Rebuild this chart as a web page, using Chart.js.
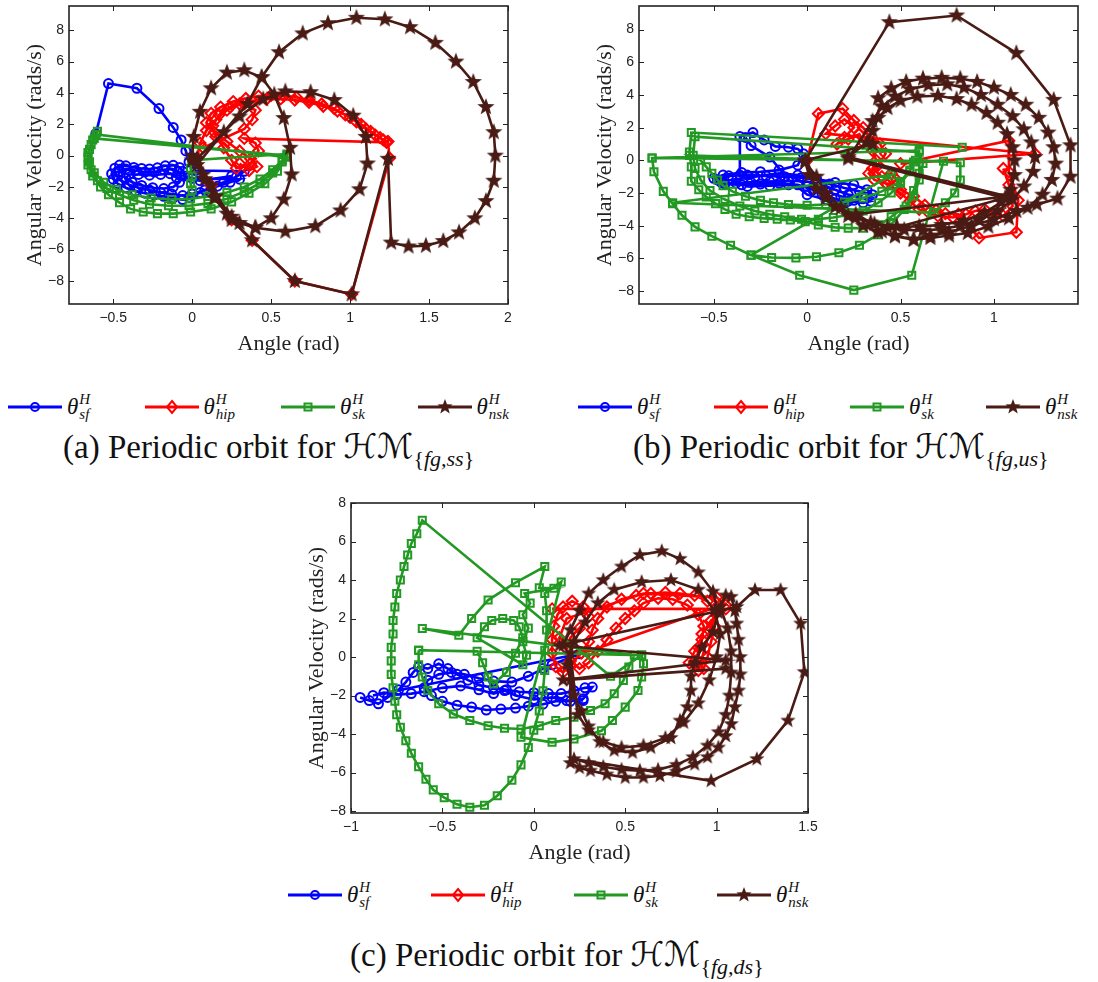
<!DOCTYPE html>
<html>
<head>
<meta charset="utf-8">
<script src="https://cdn.jsdelivr.net/npm/chart.js@4.4.0/dist/chart.umd.min.js"></script>
<style>
html, body { margin: 0; padding: 0; background: #fff; }
body { width: 1098px; height: 982px; position: relative; overflow: hidden; }
.plot { position: absolute; }
.leg { position: absolute; display: flex; align-items: center; height: 34px; }
.lab { font-family: 'Liberation Serif', 'DejaVu Serif', serif; font-style: italic; font-size: 23px; color: #111; display: inline-flex; align-items: center; margin-left: 5px; }
.ss { display: inline-flex; flex-direction: column; font-size: 15px; line-height: 15px; margin-left: 1px; }
.cap { position: absolute; font-family: 'Liberation Serif', 'DejaVu Serif', serif; font-size: 33px; line-height: 38px; color: #111; white-space: nowrap; }
.scr { font-family: 'DejaVu Sans', serif; font-style: italic; font-size: 34px; }
.cap sub { font-size: 22px; }
</style>
</head>
<body>
<div class="plot" id="wa"><canvas id="ca"></canvas></div>
<div class="plot" id="wb"><canvas id="cb"></canvas></div>
<div class="plot" id="wc"><canvas id="cc"></canvas></div>

<div class="cap" style="left:63px; top:427px">(a) Periodic orbit for <span class="scr">ℋℳ</span><sub>{<i>fg,ss</i>}</sub></div>
<div class="cap" style="left:633px; top:427px">(b) Periodic orbit for <span class="scr">ℋℳ</span><sub>{<i>fg,us</i>}</sub></div>
<div class="cap" style="left:350px; top:935px">(c) Periodic orbit for <span class="scr">ℋℳ</span><sub>{<i>fg,ds</i>}</sub></div>

<script>
// ---- data ----
const seriesNames = ['sf', 'hip', 'sk', 'nsk'];

const xTicksA = [-0.5, 0, 0.5, 1, 1.5, 2];
const xTicksB = [-0.5, 0, 0.5, 1];
const xTicksC = [-1, -0.5, 0, 0.5, 1, 1.5];
const yTicks = [-8, -6, -4, -2, 0, 2, 4, 6, 8];

const xRangeA = [-0.78, 2], yRangeA = [-9.47, 9.55];
const xRangeB = [-0.9, 1.45], yRangeB = [-8.79, 9.44];
const xRangeC = [-1, 1.5], yRangeC = [-8.1, 8];

// (a) HM{fg,ss}
const sfA = [[-0.61,1.4],[-0.53,4.6],[-0.35,4.3],[-0.21,3.0],[-0.12,1.8],[-0.07,1.0],[-0.04,0.3],[-0.02,-0.4],[0.02,-0.95],[0.33,-1.0],[0.28,-1.35],[0.2,-1.7],[0.12,-2.0],[0.05,-2.35],[-0.02,-2.65],[-0.06,-2.8],[-0.12,-2.7],[-0.18,-2.6],[-0.24,-2.5],[-0.3,-2.4],[-0.36,-2.25],[-0.42,-2.05],[-0.47,-1.8],[-0.5,-1.5],[-0.51,-1.15],[-0.49,-0.8],[-0.46,-0.6],[-0.42,-0.65],[-0.37,-0.75],[-0.32,-0.82],[-0.27,-0.85],[-0.22,-0.78],[-0.17,-0.65],[-0.12,-0.62],[-0.08,-0.75],[-0.06,-1.0],[-0.05,-1.3],[0.0,-1.45],[0.3,-1.5],[0.24,-1.7],[0.16,-1.95],[0.08,-2.2],[0.0,-2.45],[-0.06,-2.55],[-0.13,-2.45],[-0.2,-2.35],[-0.27,-2.2],[-0.34,-2.05],[-0.4,-1.85],[-0.45,-1.6],[-0.47,-1.3],[-0.46,-1.0],[-0.42,-0.85],[-0.36,-0.95],[-0.3,-1.05],[-0.24,-1.05],[-0.18,-0.9],[-0.13,-0.85],[-0.09,-1.0],[-0.07,-1.3],[-0.08,-1.7],[-0.12,-2.0],[-0.18,-2.1],[-0.25,-2.05],[-0.32,-1.9],[-0.38,-1.7],[-0.42,-1.45],[-0.4,-1.2],[-0.34,-1.2],[-0.27,-1.25],[-0.2,-1.2],[-0.14,-1.15],[-0.1,-1.4],[0.05,-1.6],[0.25,-1.3]];
const hipA = [[0.3,-0.5],[0.36,-0.95],[0.41,-0.7],[0.37,-0.2],[0.3,0.3],[0.22,0.9],[0.14,1.5],[0.09,2.1],[0.12,2.7],[0.18,3.1],[0.26,3.45],[0.34,3.65],[0.42,3.8],[0.5,3.85],[0.58,3.82],[0.66,3.72],[0.74,3.55],[0.82,3.3],[0.9,3.0],[0.97,2.6],[1.04,2.15],[1.1,1.7],[1.16,1.3],[1.21,1.0],[1.24,0.9],[1.25,-0.15],[1.01,-8.85],[0.65,-8.0],[0.38,-5.4],[0.25,-4.1],[0.12,-1.9],[0.03,-0.2],[0.05,0.8],[0.09,1.6],[0.15,2.3],[0.22,2.9],[0.3,3.3],[0.38,3.5],[0.47,3.6],[0.56,3.62],[0.65,3.55],[0.74,3.4],[0.83,3.15],[0.92,2.85],[1.0,2.45],[1.07,2.0],[1.13,1.55],[1.19,1.15],[1.23,0.85],[0.33,1.1],[0.4,0.8],[0.42,0.3],[0.37,-0.5],[0.28,-0.8],[0.25,-0.3],[0.2,0.5],[0.15,1.2],[0.13,1.9],[0.17,2.6],[0.24,3.1],[0.33,3.3],[0.4,2.9],[0.38,2.3],[0.33,1.7],[0.07,0.5]];
const skA = [[-0.6,1.55],[-0.63,1.0],[-0.66,0.2],[-0.66,-0.6],[-0.63,-1.3],[-0.58,-2.0],[-0.53,-2.5],[-0.46,-3.0],[-0.39,-3.4],[-0.31,-3.6],[-0.22,-3.7],[-0.12,-3.7],[-0.01,-3.6],[0.12,-3.4],[0.25,-2.95],[0.36,-2.4],[0.46,-1.8],[0.54,-1.0],[0.6,-0.1],[-0.61,1.35],[-0.64,0.7],[-0.66,-0.1],[-0.64,-0.9],[-0.6,-1.6],[-0.54,-2.1],[-0.46,-2.5],[-0.37,-2.85],[-0.27,-3.1],[-0.15,-3.2],[-0.02,-3.2],[0.1,-3.05],[0.22,-2.75],[0.33,-2.3],[0.43,-1.75],[0.51,-1.1],[0.57,-0.4],[0.6,0.0],[-0.62,1.1],[-0.65,0.4],[-0.65,-0.4],[-0.62,-1.1],[-0.56,-1.7],[-0.48,-2.15],[-0.38,-2.5],[-0.26,-2.7],[-0.13,-2.8],[-0.01,-2.75],[0.1,-2.6],[0.22,-2.35],[0.33,-2.0],[0.43,-1.5],[0.51,-0.9],[0.57,-0.3],[0.6,0.1],[0.0,-0.3],[-0.01,-0.8],[0.0,-1.3],[-0.01,-1.8],[0.0,-2.2]];
const nskA = [[0.0,0.0],[0.01,1.2],[0.05,2.8],[0.12,4.3],[0.22,5.3],[0.33,5.45],[0.44,5.0],[0.52,3.9],[0.58,2.4],[0.62,0.5],[0.63,-1.2],[0.58,-2.8],[0.5,-4.0],[0.4,-4.6],[0.3,-4.3],[0.22,-3.7],[0.14,-2.7],[0.08,-1.5],[0.03,-0.6],[0.2,1.5],[0.35,3.3],[0.44,5.0],[0.55,6.6],[0.70,7.8],[0.86,8.45],[1.04,8.8],[1.22,8.7],[1.38,8.2],[1.54,7.2],[1.67,6.0],[1.78,4.7],[1.86,3.1],[1.91,1.5],[1.92,0.0],[1.91,-1.6],[1.86,-2.9],[1.79,-4.0],[1.69,-4.9],[1.59,-5.45],[1.48,-5.75],[1.37,-5.8],[1.26,-5.55],[1.24,-0.2],[1.01,-8.85],[0.65,-8.0],[0.38,-5.4],[0.25,-4.1],[0.12,-1.9],[0.03,-0.2],[0.3,2.5],[0.45,3.6],[0.59,4.1],[0.75,4.05],[0.9,3.55],[1.02,2.55],[1.10,1.2],[1.11,-0.5],[1.06,-2.15],[0.94,-3.5],[0.78,-4.5],[0.59,-4.85],[0.4,-4.6],[0.25,-3.9],[0.15,-2.6],[0.07,-1.2],[0.0,-0.3]];

// (b) HM{fg,us}
const sfB = [[-0.36,-0.9],[-0.36,1.45],[-0.29,1.7],[-0.23,1.25],[-0.17,0.85],[-0.1,0.8],[-0.05,0.7],[-0.02,0.4],[-0.05,-0.3],[-0.15,-0.6],[-0.25,-0.7],[-0.35,-0.75],[-0.45,-0.9],[-0.5,-1.1],[-0.46,-1.35],[-0.38,-1.4],[-0.3,-1.35],[-0.2,-1.3],[-0.1,-1.25],[0.0,-1.3],[0.08,-1.5],[0.15,-1.8],[0.22,-2.1],[0.3,-2.3],[0.34,-2.5],[0.3,-2.6],[0.22,-2.5],[0.15,-2.35],[0.08,-2.1],[0.03,-1.8],[-0.05,-1.5],[-0.15,-1.4],[-0.25,-1.45],[-0.35,-1.5],[-0.44,-1.45],[-0.48,-1.2],[-0.42,-0.95],[-0.32,-0.9],[-0.22,-0.95],[-0.12,-1.0],[-0.03,-1.05],[0.05,-1.2],[0.12,-1.45],[0.2,-1.7],[0.28,-1.9],[0.35,-2.1],[0.32,-1.8],[0.25,-1.5],[0.15,-1.35],[0.05,-1.15],[-0.05,-0.9],[-0.15,-0.8],[-0.28,-1.0],[-0.4,-1.2],[-0.32,-1.6],[-0.2,-1.55],[-0.1,-1.5],[0.0,-1.6],[0.1,-1.9],[0.18,-2.2],[0.25,-2.45],[0.2,-2.65],[0.1,-2.4],[0.0,-2.1],[-0.1,-1.2],[-0.2,0.2],[-0.3,0.9],[-0.33,1.4]];
const hipB = [[0.0,0.0],[0.06,2.85],[0.19,3.16],[0.25,2.44],[0.3,2.0],[0.33,1.5],[0.39,1.0],[0.42,0.4],[0.38,-0.3],[0.33,-0.8],[0.36,-1.2],[0.42,-1.4],[0.48,-1.5],[0.5,-1.8],[0.57,-2.2],[0.63,-2.75],[0.69,-3.05],[0.74,-3.26],[0.81,-3.3],[0.92,-4.75],[1.12,-4.4],[1.13,-2.44],[1.08,-0.7],[1.08,1.2],[0.5,-0.2],[1.22,0.4],[0.1,1.63],[0.15,2.1],[0.2,2.5],[0.25,2.0],[0.2,1.4],[0.16,1.0],[0.22,1.3],[0.28,1.6],[0.3,1.1],[0.35,0.6],[0.37,0.0],[0.35,-0.5],[0.4,-1.0],[0.45,-0.8],[0.48,-1.2],[0.43,-1.5],[0.5,-2.0],[0.55,-2.5],[0.6,-3.0],[0.65,-3.2],[0.7,-3.4],[0.78,-3.5],[0.85,-3.3],[0.9,-3.1],[0.95,-3.0],[1.0,-3.2],[1.05,-3.4],[1.1,-2.8],[1.08,-1.5],[1.05,-0.5]];
const skB = [[0.83,0.8],[-0.62,1.7],[-0.63,0.5],[-0.62,-0.4],[-0.62,-1.28],[-0.58,-1.8],[-0.54,-2.24],[-0.49,-2.65],[-0.44,-3.0],[-0.38,-3.3],[-0.31,-3.45],[-0.23,-3.55],[-0.16,-3.6],[-0.09,-3.65],[-0.01,-3.75],[0.06,-3.95],[0.15,-4.1],[0.22,-4.15],[0.3,-4.15],[0.39,-3.95],[0.45,-3.45],[0.53,-2.8],[0.57,-1.85],[0.6,-0.8],[0.6,0.6],[-0.83,0.14],[-0.82,-0.7],[-0.77,-1.9],[-0.72,-2.65],[-0.67,-3.36],[-0.6,-4.07],[-0.51,-4.64],[-0.41,-5.2],[-0.3,-5.8],[-0.19,-5.95],[-0.06,-5.97],[0.05,-5.9],[0.17,-5.66],[0.28,-5.2],[0.38,-4.55],[0.46,-3.8],[0.52,-3.0],[0.57,-2.2],[0.6,-1.2],[0.62,-0.2],[0.6,0.5],[-0.6,1.45],[-0.61,0.3],[-0.6,-0.5],[-0.57,-1.2],[-0.52,-1.85],[-0.44,-2.4],[-0.36,-2.8],[-0.28,-3.1],[-0.2,-3.3],[-0.12,-3.45],[-0.03,-3.6],[0.06,-3.6],[0.14,-3.5],[0.22,-3.35],[0.3,-3.1],[0.38,-2.6],[0.45,-2.0],[0.5,-1.4],[0.55,-0.7],[0.57,-0.1],[-0.63,0.3],[-0.57,0.0],[-0.54,-0.4],[-0.51,-0.8],[-0.48,-1.2],[-0.45,-1.55],[-0.4,-1.9],[-0.33,-2.2],[-0.25,-2.45],[-0.18,-2.6],[-0.1,-2.7],[0.0,-2.75],[0.1,-2.7],[0.2,-2.55],[0.3,-2.3],[0.4,-1.9],[0.5,-1.3],[0.55,-0.6],[0.58,0.0],[0.82,-0.15],[0.82,-1.2],[0.79,-2.0],[0.74,-2.6],[0.68,-3.2],[-0.72,-2.6],[0.45,-0.9],[-0.3,-5.8],[-0.04,-7.03],[0.25,-7.94],[0.56,-7.03],[0.73,-0.06],[-0.83,0.14]];
const nskB = [[0.35,1.0],[-0.01,0.0],[0.44,8.45],[0.8,8.86],[1.12,6.56],[1.32,3.7],[1.41,0.92],[1.41,-1.0],[1.34,-2.34],[1.23,-2.7],[1.12,-3.1],[1.0,-3.6],[0.88,-4.0],[0.76,-4.4],[0.66,-4.6],[0.57,-4.85],[0.47,-4.6],[0.38,-4.4],[0.3,-4.0],[0.22,-3.4],[0.15,-2.85],[0.1,-2.3],[0.05,-1.75],[0.01,-0.9],[-0.01,-0.1],[0.05,-1.0],[0.1,-2.0],[0.18,-2.9],[0.26,-3.5],[0.36,-3.9],[0.48,-4.05],[0.6,-4.05],[0.72,-3.95],[0.84,-3.7],[0.95,-3.2],[1.04,-2.55],[1.09,-1.8],[1.11,-0.9],[1.11,0.0],[1.1,0.8],[1.07,1.6],[1.02,2.3],[0.96,2.9],[0.88,3.4],[0.8,3.75],[0.7,3.95],[0.59,3.9],[0.5,3.65],[0.43,3.2],[0.38,2.6],[0.35,1.8],[0.32,1.1],[0.22,0.2],[1.07,-2.2],[0.26,-3.3],[0.34,-3.8],[0.43,-4.1],[0.52,-4.25],[0.62,-4.3],[0.72,-4.2],[0.82,-4.0],[0.92,-3.65],[1.02,-3.1],[1.1,-2.4],[1.16,-1.6],[1.21,-0.7],[1.22,0.2],[1.2,1.1],[1.16,1.9],[1.1,2.7],[1.02,3.4],[0.93,4.0],[0.84,4.45],[0.75,4.65],[0.65,4.6],[0.55,4.35],[0.47,3.9],[0.4,3.3],[0.35,2.4],[0.22,0.1],[1.06,-2.3],[0.4,-4.35],[0.47,-4.65],[0.57,-4.85],[0.66,-4.75],[0.76,-4.6],[0.86,-4.45],[0.97,-4.05],[1.08,-3.55],[1.18,-2.9],[1.26,-2.1],[1.31,-1.2],[1.33,-0.2],[1.32,0.8],[1.29,1.7],[1.24,2.6],[1.17,3.4],[1.09,4.0],[1.0,4.45],[0.91,4.8],[0.82,5.0],[0.72,5.05],[0.62,5.0],[0.53,4.8],[0.45,4.4],[0.38,3.8]];

// (c) HM{fg,ds}
const sfC = [[-0.95,-2.1],[-0.9,-2.26],[-0.85,-2.43],[-0.8,-2.1],[-0.74,-1.7],[-0.7,-1.3],[-0.66,-0.8],[-0.63,-0.5],[-0.58,-0.6],[-0.52,-0.35],[-0.47,-0.6],[-0.42,-0.9],[-0.36,-1.2],[-0.3,-1.45],[-0.22,-1.6],[-0.15,-1.7],[-0.08,-1.8],[0.0,-1.85],[0.08,-1.9],[0.15,-1.9],[0.22,-1.75],[0.28,-1.6],[0.32,-1.56],[0.27,-2.17],[0.2,-2.3],[0.12,-2.3],[0.05,-2.45],[-0.03,-2.55],[-0.1,-2.65],[-0.18,-2.7],[-0.26,-2.75],[-0.34,-2.6],[-0.42,-2.5],[-0.5,-2.3],[-0.56,-2.0],[-0.6,-1.6],[-0.58,-1.2],[-0.52,-0.9],[-0.45,-0.8],[-0.38,-0.9],[-0.3,-1.1],[-0.22,-1.25],[-0.12,-1.3],[-0.03,-1.0],[0.05,-0.6],[0.1,-0.4],[0.25,0.17],[-0.88,-2.0],[-0.82,-1.85],[-0.75,-1.95],[-0.67,-1.9],[-0.6,-1.8],[-0.5,-1.6],[-0.4,-1.5],[-0.3,-1.7],[-0.22,-1.9],[-0.16,-1.74],[-0.1,-2.0],[0.0,-2.2],[0.1,-2.1],[0.18,-2.26],[0.27,-2.26]];
const hipC = [[0.1,2.5],[1.05,2.5],[0.97,1.9],[0.92,1.2],[0.9,0.5],[0.9,-0.2],[0.93,-0.6],[0.95,0.0],[0.97,0.8],[0.99,1.6],[1.0,2.3],[0.95,2.9],[0.88,3.2],[0.8,3.3],[0.72,3.35],[0.64,3.3],[0.56,3.2],[0.48,3.0],[0.4,2.6],[0.35,2.0],[0.32,1.4],[0.3,0.8],[0.26,0.2],[0.2,-0.4],[0.16,-0.8],[0.12,-0.5],[0.1,0.2],[0.1,0.9],[0.11,1.6],[0.13,2.2],[0.16,2.6],[0.21,2.9],[0.27,2.6],[0.3,2.1],[0.25,1.5],[0.2,1.0],[0.18,0.4],[0.2,-0.2],[0.25,-0.6],[0.3,-0.3],[0.35,0.3],[0.4,0.9],[0.45,1.5],[0.5,2.0],[0.55,2.4],[0.6,2.8],[0.68,3.05],[0.76,3.0],[0.84,2.7],[0.9,2.2],[0.93,1.6],[0.92,0.9],[0.88,0.3],[0.85,-0.3],[0.9,-0.7],[1.0,2.6],[0.3,0.3],[0.14,1.0],[0.18,2.0],[0.6,3.3],[1.0,3.1],[1.05,2.7]];
const skC = [[-0.63,0.35],[-0.63,-0.4],[-0.61,-1.04],[-0.58,-1.74],[-0.52,-2.43],[-0.44,-2.96],[-0.35,-3.3],[-0.25,-3.57],[-0.16,-3.7],[-0.07,-3.74],[0.03,-3.57],[0.12,-3.3],[0.22,-3.13],[0.31,-2.78],[0.39,-2.43],[0.44,-1.91],[0.49,-1.22],[0.52,-0.52],[0.55,0.1],[-0.61,1.48],[-0.41,1.13],[-0.34,2.0],[-0.25,2.96],[-0.1,3.86],[0.06,4.7],[0.03,3.6],[0.11,3.57],[-0.05,3.3],[-0.02,2.8],[-0.06,2.2],[-0.03,1.5],[-0.06,0.8],[-0.04,0.1],[-0.06,-0.4],[-0.31,1.0],[-0.27,1.57],[-0.23,1.9],[-0.17,2.0],[-0.11,1.9],[-0.08,1.57],[-0.06,1.0],[-0.1,0.2],[-0.15,-0.8],[-0.22,-1.4],[-0.25,-1.04],[-0.28,-0.3],[-0.31,0.3],[-0.63,0.35],[0.59,0.1],[0.42,-1.0],[-0.61,7.1],[-0.64,6.4],[-0.67,5.9],[-0.69,5.3],[-0.71,4.7],[-0.73,4.0],[-0.75,3.3],[-0.76,2.6],[-0.77,1.9],[-0.77,1.2],[-0.78,0.5],[-0.78,-0.2],[-0.78,-0.9],[-0.77,-1.6],[-0.76,-2.3],[-0.75,-3.0],[-0.73,-3.65],[-0.7,-4.35],[-0.67,-5.0],[-0.63,-5.7],[-0.59,-6.35],[-0.55,-6.9],[-0.49,-7.3],[-0.42,-7.65],[-0.35,-7.8],[-0.27,-7.7],[-0.2,-7.2],[-0.12,-6.4],[-0.07,-5.6],[-0.03,-4.7],[0.0,-3.8],[0.03,-2.8],[0.05,-1.75],[0.06,-0.7],[0.06,0.35],[0.07,1.4],[0.07,2.4],[0.06,3.3],[0.15,3.9],[-0.07,-4.17],[0.1,-4.43],[0.22,-4.26],[0.37,-3.83],[0.43,-3.3],[0.5,-2.6],[0.57,-1.74],[0.59,-1.04],[0.6,-0.35],[0.59,0.1]];
const nskC = [[0.16,0.6],[0.2,1.4],[0.25,2.4],[0.3,3.3],[0.38,4.0],[0.48,4.7],[0.58,5.3],[0.7,5.5],[0.8,5.1],[0.9,4.4],[0.98,3.4],[1.01,2.3],[0.98,1.3],[0.92,0.5],[0.88,-0.3],[0.86,-1.0],[0.86,-1.74],[0.84,-2.6],[0.8,-3.3],[0.75,-4.2],[0.64,-4.7],[0.54,-4.96],[0.44,-4.85],[0.36,-4.4],[0.3,-3.6],[0.26,-2.8],[0.22,-2.0],[0.2,-1.2],[0.18,-0.4],[0.22,0.8],[0.28,1.8],[0.35,2.8],[0.44,3.5],[0.59,3.9],[0.75,4.0],[0.9,3.5],[0.99,2.4],[1.02,1.2],[1.0,0.0],[0.96,-1.2],[0.9,-2.4],[0.82,-3.4],[0.72,-4.2],[0.6,-4.6],[0.48,-4.7],[0.38,-4.4],[0.3,-3.8],[0.24,-3.0],[0.2,0.2],[0.2,-5.5],[0.25,-5.75],[0.31,-5.9],[0.4,-6.1],[0.5,-6.26],[0.6,-6.25],[0.69,-6.17],[0.78,-5.95],[0.88,-5.57],[0.95,-5.2],[1.01,-4.7],[1.05,-4.1],[1.08,-3.48],[1.1,-2.6],[1.12,-1.74],[1.13,-0.9],[1.13,0.0],[1.12,0.9],[1.11,1.74],[1.1,2.4],[1.08,3.13],[1.05,3.2],[1.02,2.6],[1.06,1.5],[1.08,0.3],[1.08,-0.8],[1.07,-2.0],[1.05,-3.0],[1.01,-3.9],[0.95,-4.6],[0.87,-5.2],[0.78,-5.6],[0.68,-5.85],[0.58,-5.9],[0.48,-5.85],[0.38,-5.7],[0.3,-5.5],[0.22,-5.3],[0.97,-6.43],[1.22,-5.3],[1.39,-3.3],[1.48,-0.78],[1.46,1.74],[1.35,3.48],[1.21,3.48],[1.11,2.6],[0.14,0.6],[1.05,-0.17],[0.16,-1.2],[1.05,-0.6]];

// ---- styles ----
const colors = { sf: '#0000ff', hip: '#ff0000', sk: '#229922', nsk: '#4a1b14' };

function starCanvas(r, color) {
  const s = Math.ceil(r * 2 + 2);
  const c = document.createElement('canvas');
  c.width = s; c.height = s;
  const g = c.getContext('2d');
  g.fillStyle = color;
  g.beginPath();
  for (let i = 0; i < 10; i++) {
    const rr = i % 2 ? r * 0.42 : r;
    const a = -Math.PI / 2 + i * Math.PI / 5;
    g.lineTo(s / 2 + rr * Math.cos(a), s / 2 + rr * Math.sin(a));
  }
  g.closePath();
  g.fill();
  return c;
}

function markerStyle(name, starR) {
  if (name === 'sf') return { pointStyle: 'circle', pointRadius: 4.5 };
  if (name === 'hip') return { pointStyle: 'rectRot', pointRadius: 5.5 };
  if (name === 'sk') return { pointStyle: 'rect', pointRadius: 5 };
  return { pointStyle: starCanvas(starR, colors.nsk), pointRadius: starR };
}

const boxPlugin = {
  id: 'mbox',
  afterDatasetsDraw(chart) {
    const { ctx, chartArea: a, scales: { x, y } } = chart;
    const L = 5;
    ctx.save();
    ctx.strokeStyle = '#222';
    ctx.lineWidth = 1;
    ctx.beginPath();
    x.ticks.forEach(t => {
      const px = Math.round(x.getPixelForValue(t.value)) + 0.5;
      ctx.moveTo(px, a.bottom); ctx.lineTo(px, a.bottom - L);
      ctx.moveTo(px, a.top); ctx.lineTo(px, a.top + L);
    });
    y.ticks.forEach(t => {
      const py = Math.round(y.getPixelForValue(t.value)) + 0.5;
      ctx.moveTo(a.left, py); ctx.lineTo(a.left + L, py);
      ctx.moveTo(a.right, py); ctx.lineTo(a.right - L, py);
    });
    ctx.stroke();
    ctx.lineWidth = 1.6;
    ctx.strokeRect(a.left, a.top, a.right - a.left, a.bottom - a.top);
    ctx.restore();
  }
};

const tickFont = { family: "'Liberation Sans', Arial, sans-serif", size: 14 };
const titleFont = { family: "'Liberation Serif', 'DejaVu Serif', serif", size: 22 };
const fmt = v => String(v).replace('-', '\u2212');

function makeChart(wrapId, canvasId, area, xr, yr, xt, yt, series, starR) {
  const padL = 8, padT = 20, padR = 25, padB = 8, yW = 47, xH = 53;
  const wrap = document.getElementById(wrapId);
  wrap.style.left = (area.l - yW - padL) + 'px';
  wrap.style.top = (area.t - padT) + 'px';
  wrap.style.width = (padL + yW + (area.r - area.l) + padR) + 'px';
  wrap.style.height = (padT + (area.b - area.t) + xH + padB) + 'px';

  const datasets = series.map((pts, i) => {
    const name = seriesNames[i];
    return Object.assign({
      label: name,
      data: pts.map(p => ({ x: p[0], y: p[1] })),
      showLine: true,
      borderColor: colors[name],
      borderWidth: 2.6,
      pointBorderColor: colors[name],
      pointBackgroundColor: 'rgba(0,0,0,0)',
      pointBorderWidth: 2,
      tension: 0,
      fill: false,
      order: 3 - i
    }, markerStyle(name, starR));
  });

  return new Chart(document.getElementById(canvasId), {
    type: 'scatter',
    data: { datasets },
    options: {
      responsive: true,
      maintainAspectRatio: false,
      animation: false,
      devicePixelRatio: 1,
      layout: { padding: { left: padL, top: padT, right: padR, bottom: padB } },
      plugins: { legend: { display: false }, tooltip: { enabled: false } },
      scales: {
        x: {
          type: 'linear', position: 'bottom', min: xr[0], max: xr[1],
          grid: { display: false, drawTicks: false },
          border: { display: false },
          afterBuildTicks: s => { s.ticks = xt.map(v => ({ value: v })); },
          afterFit: s => { s.height = xH; },
          ticks: { font: tickFont, color: '#222', padding: 6, maxRotation: 0, callback: fmt },
          title: { display: true, text: 'Angle (rad)', font: titleFont, color: '#222', padding: 0 }
        },
        y: {
          type: 'linear', position: 'left', min: yr[0], max: yr[1],
          grid: { display: false, drawTicks: false },
          border: { display: false },
          afterBuildTicks: s => { s.ticks = yt.map(v => ({ value: v })); },
          afterFit: s => { s.width = yW; },
          ticks: { font: tickFont, color: '#222', padding: 5, callback: fmt },
          title: { display: true, text: 'Angular Velocity (rads/s)', font: titleFont, color: '#222', padding: 0 }
        }
      }
    },
    plugins: [boxPlugin]
  });
}

makeChart('wa', 'ca', { l: 69, t: 6, r: 508, b: 304 }, xRangeA, yRangeA, xTicksA, yTicks, [sfA, hipA, skA, nskA], 9);
makeChart('wb', 'cb', { l: 639, t: 6, r: 1078, b: 304 }, xRangeB, yRangeB, xTicksB, yTicks, [sfB, hipB, skB, nskB], 9);
makeChart('wc', 'cc', { l: 351, t: 503, r: 808, b: 813 }, xRangeC, yRangeC, xTicksC, yTicks, [sfC, hipC, skC, nskC], 8);

// ---- legends ----
const subLabels = { sf: 'sf', hip: 'hip', sk: 'sk', nsk: 'nsk' };

function drawLegendIcon(name) {
  const c = document.createElement('canvas');
  c.width = 54; c.height = 22;
  const g = c.getContext('2d');
  const col = colors[name];
  g.strokeStyle = col; g.lineWidth = 3;
  g.beginPath(); g.moveTo(0, 11); g.lineTo(54, 11); g.stroke();
  g.lineWidth = 2;
  if (name === 'sf') { g.beginPath(); g.arc(27, 11, 4, 0, Math.PI * 2); g.stroke(); }
  if (name === 'hip') { g.beginPath(); g.moveTo(27, 5); g.lineTo(32, 11); g.lineTo(27, 17); g.lineTo(22, 11); g.closePath(); g.stroke(); }
  if (name === 'sk') { g.strokeRect(23.5, 7.5, 7, 7); }
  if (name === 'nsk') { const s = starCanvas(8, col); g.drawImage(s, 27 - s.width / 2, 11 - s.height / 2); }
  return c;
}

function addLegend(x0, step, yc) {
  seriesNames.forEach((name, i) => {
    const d = document.createElement('div');
    d.className = 'leg';
    d.style.left = (x0 + i * step) + 'px';
    d.style.top = (yc - 17) + 'px';
    d.appendChild(drawLegendIcon(name));
    const lab = document.createElement('span');
    lab.className = 'lab';
    lab.innerHTML = 'θ<span class="ss"><span>H</span><span>' + subLabels[name] + '</span></span>';
    d.appendChild(lab);
    document.body.appendChild(d);
  });
}

addLegend(8, 136.5, 407);
addLegend(578, 136, 407);
addLegend(288, 143, 895);
</script>
</body>
</html>
